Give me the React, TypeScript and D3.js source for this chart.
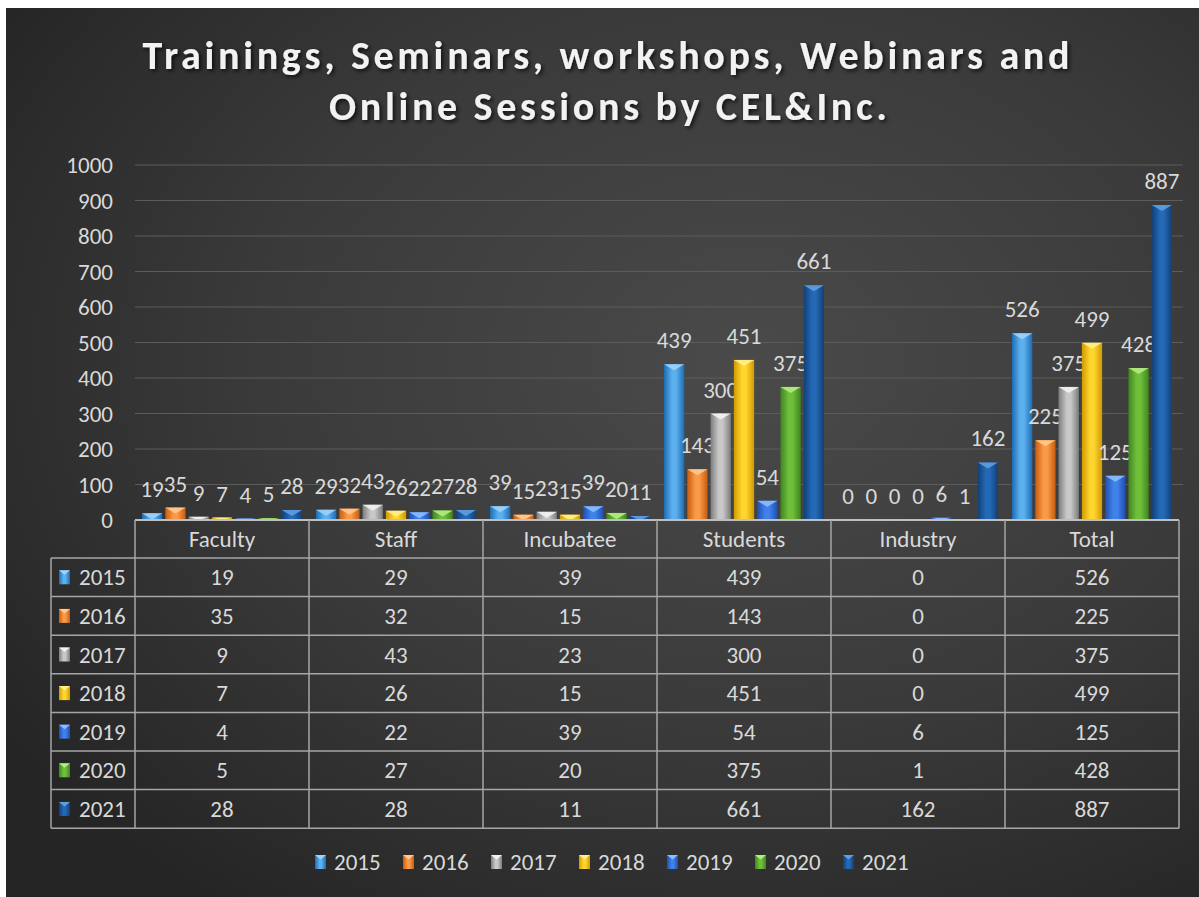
import React from "react";
import * as d3 from "d3";

const categories = ["Faculty", "Staff", "Incubatee", "Students", "Industry", "Total"];
const years = ["2015", "2016", "2017", "2018", "2019", "2020", "2021"];

const v2015 = [19, 29, 39, 439, 0, 526];
const v2016 = [35, 32, 15, 143, 0, 225];
const v2017 = [9, 43, 23, 300, 0, 375];
const v2018 = [7, 26, 15, 451, 0, 499];
const v2019 = [4, 22, 39, 54, 6, 125];
const v2020 = [5, 27, 20, 375, 1, 428];
const v2021 = [28, 28, 11, 661, 162, 887];

const yTicks = [0, 100, 200, 300, 400, 500, 600, 700, 800, 900, 1000];

const titleLines = ["Trainings, Seminars, workshops, Webinars and", "Online Sessions by CEL&Inc."];

// [dark edge, light centre, top facet]
const palette = [
  ["#1d6cb3", "#5cb0ee", "#9fd3fb"],
  ["#c75c10", "#f99a45", "#ffc98f"],
  ["#7d7d7d", "#c8c8c8", "#f2f2f2"],
  ["#d09a00", "#ffd52e", "#fff08a"],
  ["#1f4fb0", "#3f82ea", "#8ebcff"],
  ["#3f8520", "#6fbf3a", "#b4eb84"],
  ["#123f78", "#2469b5", "#5f9fe0"],
];

const allValues = [v2015, v2016, v2017, v2018, v2019, v2020, v2021];

const W = 1199;
const H = 897;
const plotLeft = 135;
const plotRight = 1179;
const font = "Carlito, Lato, 'Open Sans', sans-serif";
const textColor = "#d9d9d9";
const lineColor = "#a6a6a6";
const fs = 23;

export default function App() {
  const y = d3.scaleLinear().domain([0, 1000]).range([520, 165]);
  const x0 = d3.scaleBand<string>().domain(categories).range([plotLeft, plotRight]);
  const x1 = d3
    .scaleBand<string>()
    .domain(years)
    .range([7, x0.bandwidth() - 7])
    .paddingInner(0.13);

  const tableTop = 520;
  const headerH = 38;
  const rowH = 38.6;
  const seriesColLeft = 51;

  const marker = (i: number, mx: number, my: number) => (
    <g>
      <rect x={mx} y={my} width={11} height={14} fill={`url(#g${i})`} />
      <polygon
        points={`${mx},${my} ${mx + 11},${my} ${mx + 5.5},${my + 4.5}`}
        fill={palette[i][2]}
      />
    </g>
  );

  const legendStep = 88;
  const legendStart = 315;

  return (
    <svg
      width={W}
      height={H}
      style={{ position: "absolute", left: 0, top: 0 }}
      fontFamily={font}
    >
      <defs>
        <radialGradient id="bg" cx="0.62" cy="0.4" r="0.75">
          <stop offset="0" stopColor="#4a4a4a" />
          <stop offset="0.55" stopColor="#3a3a3a" />
          <stop offset="1" stopColor="#252525" />
        </radialGradient>
        {palette.map((c, i) => (
          <linearGradient key={i} id={`g${i}`} x1="0" x2="1" y1="0" y2="0">
            <stop offset="0" stopColor={c[0]} />
            <stop offset="0.4" stopColor={c[1]} />
            <stop offset="0.6" stopColor={c[1]} />
            <stop offset="1" stopColor={c[0]} />
          </linearGradient>
        ))}
        <filter id="shadow" x="-5%" y="-20%" width="110%" height="140%">
          <feDropShadow dx="2" dy="2" stdDeviation="2" floodColor="#000" floodOpacity="0.75" />
        </filter>
      </defs>

      <rect x={0} y={0} width={W} height={H} fill="#fff" />
      <rect x={6} y={8} width={W - 6} height={H - 8} fill="url(#bg)" />

      {/* title */}
      <g fill="#f2f2f2" fontSize={40} fontWeight="bold" textAnchor="middle" filter="url(#shadow)">
        <text x={606} y={69} textLength={927} lengthAdjust="spacing">
          {titleLines[0]}
        </text>
        <text x={608} y={120} textLength={558} lengthAdjust="spacing">
          {titleLines[1]}
        </text>
      </g>

      {/* gridlines and y ticks */}
      {yTicks.map((t) => (
        <g key={t}>
          {t > 0 && (
            <line x1={plotLeft} x2={1183} y1={y(t)} y2={y(t)} stroke="#5c5c5c" strokeWidth={1} />
          )}
          <text x={113} y={y(t) + 8} textAnchor="end" fill={textColor} fontSize={fs}>
            {t}
          </text>
        </g>
      ))}

      {/* bars */}
      {categories.map((cat, ci) => (
        <g key={cat} transform={`translate(${x0(cat)},0)`}>
          {years.map((yr, si) => {
            const v = allValues[si][ci];
            const bx = x1(yr)!;
            const bw = x1.bandwidth();
            const top = y(v);
            const h = y(0) - top;
            const facet = Math.min(6, h);
            return (
              <g key={yr}>
                <rect x={bx} y={top} width={bw} height={h} fill={`url(#g${si})`} />
                {h > 0 && (
                  <polygon
                    points={`${bx},${top} ${bx + bw},${top} ${bx + bw / 2},${top + facet}`}
                    fill={palette[si][2]}
                    opacity={0.9}
                  />
                )}
                <text
                  x={bx + bw / 2}
                  y={top - 16}
                  textAnchor="middle"
                  fill={textColor}
                  fontSize={fs}
                >
                  {v}
                </text>
              </g>
            );
          })}
        </g>
      ))}

      {/* data table */}
      <g stroke={lineColor} strokeWidth={1.5} fill="none">
        <line x1={plotLeft} x2={plotRight} y1={tableTop} y2={tableTop} stroke="#bfbfbf" strokeWidth={2} />
        {[...categories.map((c) => x0(c)!), plotRight].map((lx, i) => (
          <line key={i} x1={lx} x2={lx} y1={tableTop} y2={tableTop + headerH + rowH * years.length} />
        ))}
        <line
          x1={seriesColLeft}
          x2={seriesColLeft}
          y1={tableTop + headerH}
          y2={tableTop + headerH + rowH * years.length}
        />
        {d3.range(years.length + 1).map((r) => (
          <line
            key={r}
            x1={seriesColLeft}
            x2={plotRight}
            y1={tableTop + headerH + rowH * r}
            y2={tableTop + headerH + rowH * r}
          />
        ))}
      </g>
      {categories.map((cat) => (
        <text
          key={cat}
          x={x0(cat)! + x0.bandwidth() / 2}
          y={tableTop + headerH / 2 + 8}
          textAnchor="middle"
          fill={textColor}
          fontSize={fs}
        >
          {cat}
        </text>
      ))}
      {years.map((yr, si) => {
        const rowMid = tableTop + headerH + rowH * si + rowH / 2;
        return (
          <g key={yr}>
            {marker(si, 59, rowMid - 7)}
            <text x={79} y={rowMid + 8} fill={textColor} fontSize={fs}>
              {yr}
            </text>
            {categories.map((cat, ci) => (
              <text
                key={cat}
                x={x0(cat)! + x0.bandwidth() / 2}
                y={rowMid + 8}
                textAnchor="middle"
                fill={textColor}
                fontSize={fs}
              >
                {allValues[si][ci]}
              </text>
            ))}
          </g>
        );
      })}

      {/* legend */}
      {years.map((yr, si) => (
        <g key={yr}>
          {marker(si, legendStart + legendStep * si, 855)}
          <text x={legendStart + legendStep * si + 19} y={870} fill={textColor} fontSize={fs}>
            {yr}
          </text>
        </g>
      ))}
    </svg>
  );
}
